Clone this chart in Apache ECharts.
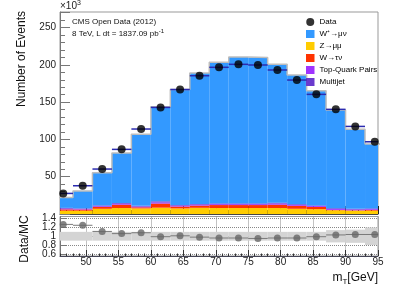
<!DOCTYPE html>
<html><head><meta charset="utf-8">
<script src="https://cdn.jsdelivr.net/npm/echarts@6/dist/echarts.min.js"></script>
<style>html,body{margin:0;padding:0;background:#fff}#c{width:398px;height:287px}</style>
</head><body><div id="c"></div>
<script>
// ---- data (values in units of 10^3 events) ----
const binEdges   = [45,48,51,54,57,60,63,66,69,72,75,78,81,84,87,90,93,96];
const binCenters = [46.5,49.5,52.5,55.5,58.5,61.5,64.5,67.5,70.5,73.5,76.5,79.5,82.5,85.5,88.5,91.5,94.5];
const dataValues = [27.6,37.9,60.3,86.7,114,143,167,185.5,196.8,200.8,199.9,193.2,179.7,160.5,140.4,117.5,96.9];
const zmumu      = [4.4,4.4,7.0,8.0,7.5,8.5,7.5,8.3,8.0,8.0,8.0,8.0,7.0,6.5,5.0,4.5,4.5];
const wtaunu     = [1.8,1.6,2.5,4.5,1.5,5.5,2.5,3.0,4.0,4.0,4.0,4.5,4.0,3.0,0.5,0.5,1.0];
const ttbar      = [1.0,0.8,1.0,1.2,1.0,1.5,1.2,1.2,1.2,1.2,1.2,1.5,1.2,1.2,1.2,1.0,1.0];
const multijet   = [1.0,0.7,1.0,1.0,1.0,1.5,1.0,1.0,1.0,1.0,1.0,1.2,1.0,0.8,1.0,1.0,1.0];
const wmunu      = [14.1,23.5,43.8,67.3,96,127,154.8,175.5,189.3,196.3,195.8,185.8,173.2,153.9,131.8,106.6,86.3];
const ratioValues= [1.27,1.25,1.11,1.06,1.08,0.99,1.01,0.98,0.96,0.96,0.95,0.96,0.96,0.99,1.03,1.04,1.04];
const ratioErr   = [0.10,0.10,0.10,0.10,0.10,0.10,0.10,0.10,0.10,0.10,0.10,0.10,0.10,0.10,0.14,0.15,0.20];
const xTicks     = [50,55,60,65,70,75,80,85,90,95];
const ratioTicksA = [0.6,1,1.4];
const ratioTicksB = [0.8,1.2];
const names = {data:'Data', wmn:'W⁺→μν', zmm:'Z→μμ', wtn:'W→τν', top:'Top-Quark Pairs', mj:'Multijet'};

const FONT = 'Liberation Sans, Arial, Helvetica, sans-serif';
const chart = echarts.init(document.getElementById('c'));

function clipX(params, x) {
  const cs = params.coordSys;
  return Math.max(cs.x, Math.min(cs.x + cs.width, x));
}
function rectItem(params, api) {
  const p0 = api.coord([api.value(0), api.value(2)]);
  const p1 = api.coord([api.value(1), api.value(3)]);
  const x0 = clipX(params, p0[0]), x1 = clipX(params, p1[0]);
  return {type:'rect', shape:{x:x0, y:p1[1], width:x1 - x0, height:p0[1] - p1[1]},
          style:{fill: api.visual('color')}};
}
function hLineItem(color, width) {
  return function (params, api) {
    const p0 = api.coord([api.value(0), api.value(2)]);
    const p1 = api.coord([api.value(1), api.value(2)]);
    return {type:'line', shape:{x1:clipX(params,p0[0]), y1:p0[1], x2:clipX(params,p1[0]), y2:p1[1]},
            style:{stroke:color, lineWidth:width}};
  };
}

const stackDefs = [
  {name:names.zmm, vals:zmumu,    color:'#ffcc00'},
  {name:names.wtn, vals:wtaunu,   color:'#ff3300'},
  {name:names.top, vals:ttbar,    color:'#a033ff'},
  {name:names.mj,  vals:multijet, color:'#6a3acd'},
  {name:names.wmn, vals:wmunu,    color:'#3399ff'}
];
const base = binCenters.map(() => 0);
const series = [];
stackDefs.forEach(d => {
  const data = d.vals.map((v, i) => [binEdges[i], binEdges[i+1], base[i], base[i] + v]);
  d.vals.forEach((v, i) => { base[i] += v; });
  series.push({type:'custom', name:d.name, xAxisIndex:0, yAxisIndex:0, renderItem:rectItem,
    itemStyle:{color:d.color}, encode:{x:[0,1], y:[2,3]}, data:data, z:2, silent:true});
});
// outline of MC total
const outline = base.map((t, i) => [binEdges[i], t]);
outline.push([binEdges[binEdges.length-1], base[base.length-1]]);
series.push({type:'line', xAxisIndex:0, yAxisIndex:0, step:'end', data:outline, symbol:'none',
  lineStyle:{color:'#bdbdbd', width:1.5}, z:3, silent:true});
// data x error bars
series.push({type:'custom', xAxisIndex:0, yAxisIndex:0, renderItem:hLineItem('#2b2bb0',1.5),
  encode:{x:[0,1], y:2}, data:dataValues.map((v,i)=>[binEdges[i], binEdges[i+1], v]), z:4, silent:true});
series.push({type:'scatter', name:names.data, xAxisIndex:0, yAxisIndex:0, symbol:'circle', symbolSize:8,
  itemStyle:{color:'#000'}, data:dataValues.map((v,i)=>[binCenters[i], v]), z:5, silent:true});
// ratio band
series.push({type:'custom', xAxisIndex:2, yAxisIndex:2, renderItem:rectItem, itemStyle:{color:'#d4d4d4'},
  encode:{x:[0,1], y:[2,3]}, data:ratioErr.map((e,i)=>[binEdges[i], binEdges[i+1], 1-e, 1+e]), z:2, silent:true});
series.push({type:'custom', xAxisIndex:2, yAxisIndex:2, renderItem:hLineItem('#7a7a7a',1),
  encode:{x:[0,1], y:2}, data:ratioValues.map((v,i)=>[binEdges[i], binEdges[i+1], v]), z:4, silent:true});
series.push({type:'scatter', xAxisIndex:2, yAxisIndex:2, symbol:'circle', symbolSize:7,
  itemStyle:{color:'#666'}, data:ratioValues.map((v,i)=>[binCenters[i], v]), z:5, silent:true});

const axisCol = '#777';
const labelStyle = {color:'#222', fontSize:10, fontFamily:FONT};
function ratioYAxis(ticks) {
  return {type:'value', gridIndex:1, position:'left', min:0.55, max:1.45,
    axisLine:{show:true, lineStyle:{color:axisCol}},
    axisTick:{inside:true, length:7, customValues:ticks, lineStyle:{color:axisCol}},
    axisLabel:Object.assign({margin:4, customValues:ticks, showMinLabel:true, showMaxLabel:true, hideOverlap:false}, labelStyle),
    splitLine:{show:true, lineStyle:{color:'#888', type:'dotted', width:1}}};
}

chart.setOption({
  animation:false,
  textStyle:{fontFamily:FONT},
  grid:[
    {left:60, top:12, width:318, height:202, show:true, borderColor:'#999', borderWidth:1, backgroundColor:'#fff'},
    {left:60, top:216.5, width:318, height:39.5, show:true, borderColor:'#999', borderWidth:1, backgroundColor:'#fff'}
  ],
  xAxis:[
    {type:'value', gridIndex:0, position:'bottom', min:46, max:95,
      axisLine:{lineStyle:{color:'#444'}}, axisLabel:{show:false},
      axisTick:{inside:true, length:8, customValues:xTicks, lineStyle:{color:'#222'}}, splitLine:{show:false}},
    {type:'value', gridIndex:0, position:'bottom', min:46, max:95, interval:1,
      axisLine:{show:false}, axisLabel:{show:false},
      axisTick:{inside:true, length:4, lineStyle:{color:'#222'}}, splitLine:{show:false}},
    {type:'value', gridIndex:1, position:'bottom', min:46, max:95,
      axisLine:{lineStyle:{color:'#445'}},
      axisLabel:Object.assign({customValues:xTicks, margin:1, showMinLabel:true, showMaxLabel:true, hideOverlap:false}, labelStyle),
      axisTick:{inside:true, length:6, customValues:xTicks, lineStyle:{color:'#333'}},
      splitLine:{show:true, lineStyle:{color:'#888', type:'dotted', width:1}}},
    {type:'value', gridIndex:1, position:'bottom', min:46, max:95, interval:1,
      axisLine:{show:false}, axisLabel:{show:false},
      axisTick:{inside:true, length:2.5, lineStyle:{color:'#333'}}, splitLine:{show:false}}
  ],
  yAxis:[
    {type:'value', gridIndex:0, position:'left', min:0, max:271, interval:50,
      axisLine:{show:true, lineStyle:{color:axisCol}},
      axisTick:{inside:true, length:10, lineStyle:{color:axisCol}},
      axisLabel:Object.assign({margin:4, formatter:v => (v>0 && v%50===0) ? String(v) : ''}, labelStyle),
      splitLine:{show:false}},
    {type:'value', gridIndex:0, position:'left', min:0, max:271, interval:10,
      axisLine:{show:false}, axisLabel:{show:false},
      axisTick:{inside:true, length:5, lineStyle:{color:axisCol}}, splitLine:{show:false}},
    ratioYAxis(ratioTicksA),
    ratioYAxis(ratioTicksB)
  ],
  legend:{
    orient:'vertical', left:306, top:18, itemWidth:8.5, itemHeight:8, itemGap:4, padding:0,
    textStyle:{fontSize:8, color:'#000', fontFamily:FONT},
    data:[
      {name:names.data, icon:'circle'},
      {name:names.wmn, icon:'rect'},
      {name:names.zmm, icon:'rect'},
      {name:names.wtn, icon:'rect'},
      {name:names.top, icon:'rect'},
      {name:names.mj, icon:'rect'}
    ],
    selectedMode:false
  },
  graphic:[
    {type:'text', left:60, top:0, silent:true, style:{text:'{a|×10}{b|3}', rich:{
      a:{fontSize:10, fontFamily:FONT, fill:'#222', lineHeight:13},
      b:{fontSize:7, fontFamily:FONT, fill:'#222', verticalAlign:'top', lineHeight:13}}}},
    {type:'text', x:72, y:21.7, silent:true, style:{text:'CMS Open Data (2012)', fontSize:8, fontFamily:FONT, fill:'#111', verticalAlign:'middle'}},
    {type:'text', x:72, y:33.7, silent:true, style:{text:'{a|8 TeV, L dt = 1837.09 pb}{b|-1}', verticalAlign:'middle', rich:{
      a:{fontSize:8, fontFamily:FONT, fill:'#111', lineHeight:10},
      b:{fontSize:6, fontFamily:FONT, fill:'#111', verticalAlign:'top', lineHeight:10}}}},
    {type:'text', x:22, y:59, rotation:Math.PI/2, silent:true, style:{text:'Number of Events', fontSize:12, fontFamily:FONT, fill:'#111', align:'center', verticalAlign:'middle'}},
    {type:'text', x:25, y:239, rotation:Math.PI/2, silent:true, style:{text:'Data/MC', fontSize:12, fontFamily:FONT, fill:'#111', align:'center', verticalAlign:'middle'}},
    {type:'text', right:20, top:272, silent:true, style:{text:'{a|m}{b|T}{a|[GeV]}', rich:{
      a:{fontSize:12, fontFamily:FONT, fill:'#111', lineHeight:15},
      b:{fontSize:8, fontFamily:FONT, fill:'#111', verticalAlign:'bottom', lineHeight:15}}}}
  ],
  series:series
});
</script></body></html>
